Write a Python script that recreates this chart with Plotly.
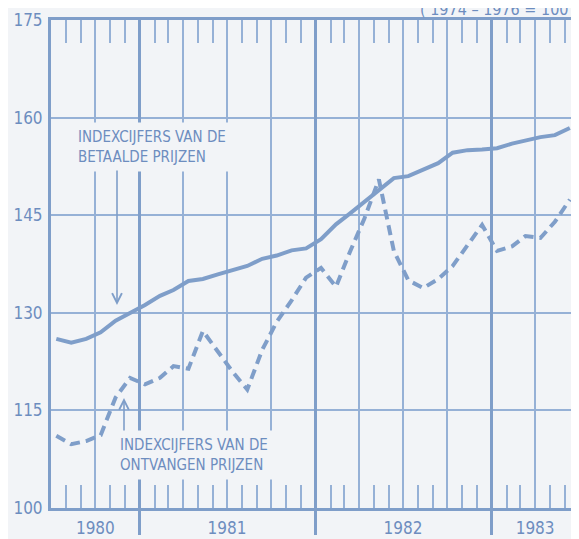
import plotly.graph_objects as go

# ---- data (monthly, July 1980 - June 1983) ----
years_months = [(1980, m) for m in range(7, 13)] + \
               [(1981, m) for m in range(1, 13)] + \
               [(1982, m) for m in range(1, 13)] + \
               [(1983, m) for m in range(1, 7)]
months = [f"{y}-{m:02d}-12" for y, m in years_months]

betaalde = [126.0, 125.4, 126.0, 127.0, 128.8, 129.9,
            131.2, 132.6, 133.5, 134.9, 135.2, 135.9,
            136.6, 137.2, 138.3, 138.8, 139.6, 139.9,
            141.3, 143.6, 145.2, 147.0, 148.8, 150.7,
            151.0, 152.0, 153.0, 154.6, 155.0, 155.1,
            155.3, 156.0, 156.5, 157.0, 157.3, 158.4]

ontvangen = [111.1, 109.8, 110.3, 111.2, 117.0, 120.0,
             119.0, 120.0, 121.8, 121.4, 127.2, 124.0,
             121.0, 118.2, 124.3, 128.6, 131.9, 135.4,
             136.9, 134.0, 139.2, 144.5, 150.5, 139.5,
             135.0, 133.8, 135.2, 137.2, 140.5, 143.5,
             139.5, 140.2, 141.8, 141.5, 144.0, 147.4]

y_ticks = [100, 115, 130, 145, 160, 175]
year_boundaries = ["1981-01-01", "1982-01-01", "1983-01-01"]
year_label_pos = ["1980-10-01", "1981-07-01", "1982-07-01", "1983-04-01"]
year_labels = ["1980", "1981", "1982", "1983"]

# ---- styling ----
BG = "#f2f4f7"
LINE = "#7f9ec9"
GRID = "#96b1d6"
TEXT = "#6d8dbf"
FONT = "DejaVu Sans Condensed, DejaVu Sans"

# page body has an 8px margin; the figure is sized so the plot lands where it should
OFF = 8
W, H = 579 - OFF, 539 - OFF
L, R, T, B = 43, 0, 12, 31
PW, PH = W - L - R, H - T - B

def px(xp):
    return (xp - OFF - L) / PW

def py(yp):
    return (T + PH - (yp - OFF)) / PH

fig = go.Figure()
fig.add_trace(go.Scatter(x=months, y=betaalde, mode="lines",
                         line=dict(color=LINE, width=4),
                         showlegend=False, hoverinfo="skip"))
fig.add_trace(go.Scatter(x=months, y=ontvangen, mode="lines",
                         line=dict(color=LINE, width=4, dash="10px,6px"),
                         showlegend=False, hoverinfo="skip"))
# invisible traces to activate overlay axes
fig.add_trace(go.Scatter(x=months[:1], y=betaalde[:1], xaxis="x2", mode="markers",
                         marker=dict(opacity=0), showlegend=False, hoverinfo="skip"))
fig.add_trace(go.Scatter(x=months[:1], y=betaalde[:1], xaxis="x3", mode="markers",
                         marker=dict(opacity=0), showlegend=False, hoverinfo="skip"))

xr = ["1980-07-01", "1983-07-01"]

fig.update_layout(
    width=W, height=H,
    margin=dict(l=L, r=R, t=T, b=B, autoexpand=False),
    paper_bgcolor=BG, plot_bgcolor=BG,
    font=dict(family=FONT, color=TEXT, size=16),
    xaxis=dict(
        type="date", range=xr, automargin=False,
        tickmode="linear", tick0="1980-07-01", dtick="M3",
        showgrid=True, gridcolor=GRID, gridwidth=1.6,
        showticklabels=False, ticks="",
        showline=True, linecolor=LINE, linewidth=3, mirror="ticks",
        minor=dict(dtick="M1", tick0="1980-07-01", ticks="inside",
                   ticklen=23, tickwidth=1.6, tickcolor=GRID, showgrid=False),
        zeroline=False,
    ),
    xaxis2=dict(
        type="date", range=xr, overlaying="x", anchor="y", side="bottom",
        automargin=False,
        tickmode="array", tickvals=year_boundaries,
        showticklabels=False, ticks="outside", ticklen=26, tickwidth=3,
        tickcolor=LINE, showgrid=True, gridcolor=LINE, gridwidth=3,
        showline=False, zeroline=False,
    ),
    xaxis3=dict(
        type="date", range=xr, overlaying="x", anchor="y", side="bottom",
        automargin=False,
        tickmode="array", tickvals=year_label_pos, ticktext=year_labels,
        ticks="outside", ticklen=5, tickcolor="rgba(0,0,0,0)",
        tickfont=dict(size=17, color=TEXT, family=FONT),
        showgrid=False, showline=False, zeroline=False,
    ),
    yaxis=dict(
        range=[100, 175], tickmode="array", tickvals=y_ticks, automargin=False,
        showgrid=True, gridcolor=GRID, gridwidth=1.6,
        showline=True, linecolor=LINE, linewidth=3, mirror=True,
        ticks="outside", ticklen=2, tickcolor="rgba(0,0,0,0)",
        tickfont=dict(size=17, color=TEXT, family=FONT),
        zeroline=False,
    ),
)

fig.add_annotation(
    xref="paper", yref="paper", x=px(72), y=py(147),
    xanchor="left", yanchor="middle",
    text="INDEXCIJFERS VAN DE<br>BETAALDE PRIJZEN", align="left",
    showarrow=False, bgcolor=BG, borderpad=5,
    font=dict(size=15, color=TEXT, family=FONT),
)
fig.add_annotation(
    xref="paper", yref="paper", x=px(114), y=py(455),
    xanchor="left", yanchor="middle",
    text="INDEXCIJFERS VAN DE<br>ONTVANGEN PRIJZEN", align="left",
    showarrow=False, bgcolor=BG, borderpad=5,
    font=dict(size=15, color=TEXT, family=FONT),
)
# arrows
fig.add_annotation(
    xref="paper", yref="paper", x=px(117), y=py(305),
    ax=0, ay=-136, text="", showarrow=True,
    arrowhead=5, arrowsize=1.2, arrowwidth=1.6, arrowcolor=LINE, standoff=0,
)
fig.add_annotation(
    xref="paper", yref="paper", x=px(124), y=py(398),
    ax=0, ay=34, text="", showarrow=True,
    arrowhead=5, arrowsize=1.2, arrowwidth=1.6, arrowcolor=LINE, standoff=0,
)
# base note (clipped at top)
fig.add_annotation(
    xref="paper", yref="paper", x=px(418), y=py(9),
    xanchor="left", yanchor="middle",
    text="( 1974 – 1976 = 100 )", showarrow=False,
    font=dict(size=16, color=TEXT, family=FONT),
)

fig.write_html("out.html")
